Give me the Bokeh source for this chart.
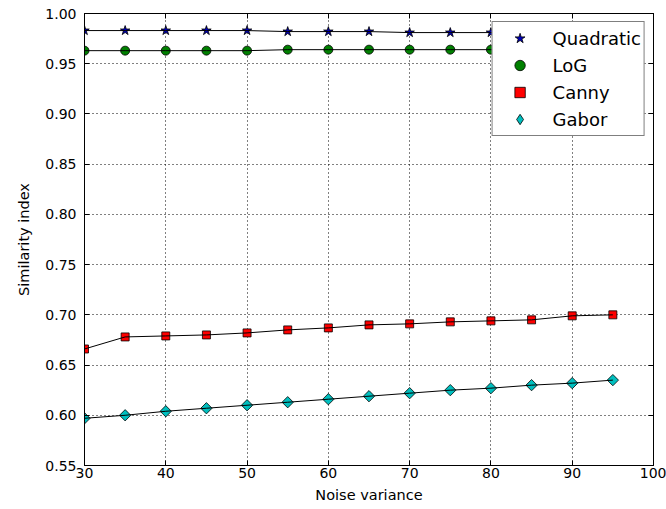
import math
from bokeh.plotting import figure
from bokeh.models import (LinearAxis, Legend, LegendItem, FixedTicker, Range1d,
                          NumeralTickFormatter)
from bokeh.embed import file_html
from bokeh.resources import INLINE

# Noise variance levels
noise = [30, 35, 40, 45, 50, 55, 60, 65, 70, 75, 80, 85, 90, 95]

# Similarity index per edge detector
quadratic = [0.983, 0.983, 0.983, 0.983, 0.983, 0.982, 0.982, 0.982, 0.981, 0.981, 0.981, 0.981, 0.981, 0.980]
log_vals = [0.963, 0.963, 0.963, 0.963, 0.963, 0.964, 0.964, 0.964, 0.964, 0.964, 0.964, 0.964, 0.964, 0.964]
canny = [0.666, 0.678, 0.679, 0.680, 0.682, 0.685, 0.687, 0.690, 0.691, 0.693, 0.694, 0.695, 0.699, 0.700]
gabor = [0.597, 0.600, 0.604, 0.607, 0.610, 0.613, 0.616, 0.619, 0.622, 0.625, 0.627, 0.630, 0.632, 0.635]

x_ticks = [30, 40, 50, 60, 70, 80, 90, 100]
y_ticks = [0.55, 0.60, 0.65, 0.70, 0.75, 0.80, 0.85, 0.90, 0.95, 1.00]

FONT = "DejaVu Sans"

p = figure(width=666, height=509, output_backend="svg", toolbar_location=None,
           x_range=Range1d(30, 100), y_range=Range1d(0.55, 1.0),
           min_border_left=84, min_border_right=13, min_border_top=13, min_border_bottom=44,
           x_axis_label="Noise variance", y_axis_label="Similarity index")
p.outline_line_color = "black"
p.outline_line_width = 1
p.background_fill_color = "white"
p.border_fill_color = "white"

for ax in p.xaxis + p.yaxis:
    ax.major_tick_in = 5
    ax.major_tick_out = 0
    ax.minor_tick_in = 0
    ax.minor_tick_out = 0
    ax.axis_line_color = "black"
    ax.major_label_text_font = FONT
    ax.major_label_text_font_size = "14px"
    ax.major_label_text_color = "black"
    ax.axis_label_text_font = FONT
    ax.axis_label_text_font_size = "14.5px"
    ax.axis_label_text_font_style = "normal"
    ax.axis_label_text_color = "black"

p.xaxis.ticker = FixedTicker(ticks=x_ticks)
p.yaxis.ticker = FixedTicker(ticks=y_ticks)
p.yaxis.formatter = NumeralTickFormatter(format="0.00")
p.xaxis.major_label_standoff = 2
p.xaxis.axis_label_standoff = 6
p.yaxis.major_label_standoff = 8
p.yaxis.axis_label_standoff = 10

# Tick marks on the opposite sides, without labels
for side, ticks in (("right", y_ticks), ("above", x_ticks)):
    ax = LinearAxis(major_tick_in=5, major_tick_out=0, minor_tick_in=0, minor_tick_out=0,
                    major_label_standoff=0, axis_line_color="black",
                    major_label_overrides={t: "" for t in ticks})
    ax.ticker = FixedTicker(ticks=ticks)
    p.add_layout(ax, side)

p.xgrid.ticker = FixedTicker(ticks=x_ticks)
p.ygrid.ticker = FixedTicker(ticks=y_ticks)
for g in (p.xgrid, p.ygrid):
    g.grid_line_color = "black"
    g.grid_line_dash = "1 3"
    g.grid_line_width = 1

# name, values, marker, colour, size, angle, legend marker
series = [
    ("Quadratic", quadratic, "star", "#0000b4", 10, 0.0, "star"),
    ("LoG", log_vals, "circle", "#008000", 9, 0.0, "circle"),
    ("Canny", canny, "square", "#ff0000", 8, 0.0, "square"),
    ("Gabor", gabor, "square", "#00bfbf", 8, math.pi / 4, "diamond"),
]

items = []
for name, vals, marker, color, size, angle, legend_marker in series:
    r = p.scatter(noise, vals, marker=marker, size=size, angle=angle,
                  fill_color=color, line_color="black", line_width=0.8)
    p.line(noise, vals, line_color="black", line_width=1)
    if legend_marker != marker:
        # legend swatches are drawn unrotated, so use a diamond glyph for the key
        r = p.scatter([float("nan")], [float("nan")], marker=legend_marker, size=size,
                      fill_color=color, line_color="black", line_width=0.8)
    items.append(LegendItem(label=name, renderers=[r]))

legend = Legend(items=items, location="top_right")
legend.label_text_font = FONT
legend.label_text_font_size = "18px"
legend.label_text_color = "black"
legend.border_line_color = "black"
legend.border_line_width = 1
legend.background_fill_alpha = 1
legend.margin = 8
legend.padding = 3
legend.spacing = 1
legend.glyph_width = 48
legend.glyph_height = 26
legend.label_height = 26
legend.label_standoff = 9
p.add_layout(legend)

open("out.html", "w").write(file_html(p, INLINE))
